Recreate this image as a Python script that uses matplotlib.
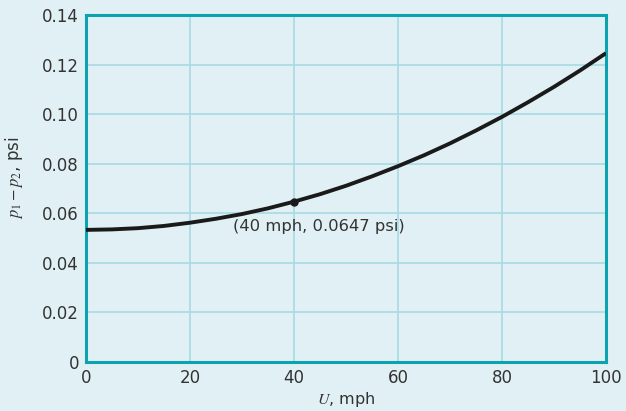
import numpy as np
import matplotlib
matplotlib.use('Agg')
from matplotlib import pyplot as plt

plt.rcParams['font.family'] = ['DejaVu Sans']
plt.rcParams['mathtext.fontset'] = 'stix'

# speed U (mph) and pressure drop p1 - p2 (psi)
speed = [0, 5, 10, 15, 20, 25, 30, 35, 40, 45, 50,
         55, 60, 65, 70, 75, 80, 85, 90, 95, 100]
dp = [0.0533, 0.0535, 0.0540, 0.0549, 0.0562, 0.0578, 0.0597, 0.0620, 0.0647,
      0.0677, 0.0711, 0.0749, 0.0790, 0.0834, 0.0882, 0.0934, 0.0989, 0.1048,
      0.1110, 0.1176, 0.1246]
marked_speed = 40
marked_dp = 0.0647

xticks = [0, 20, 40, 60, 80, 100]
yticks = [0, 0.02, 0.04, 0.06, 0.08, 0.10, 0.12, 0.14]
ytick_labels = ['0', '0.02', '0.04', '0.06', '0.08', '0.10', '0.12', '0.14']

bg = '#e1f0f4'
frame = '#0ca3b1'
grid = '#a8dbe4'
txt = '#333333'

fig = plt.figure(figsize=(6.26, 4.11), dpi=100, facecolor=bg)
ax = fig.add_axes([0.1374, 0.1192, 0.8306, 0.8443], facecolor=bg)

ax.plot(speed, dp, color='#1a1a1a', lw=2.8, solid_capstyle='butt', zorder=3)
ax.plot([marked_speed], [marked_dp], 'o', color='#1a1a1a', ms=5, zorder=4)
ax.text(28.3, 0.0545, '(40 mph, 0.0647 psi)', fontsize=11.8, color=txt,
        ha='left', va='center')

ax.set_xlim(0, 100)
ax.set_ylim(0, 0.14)
ax.set_xticks(xticks)
ax.set_yticks(yticks)
ax.set_yticklabels(ytick_labels)
ax.grid(True, color=grid, lw=1.2)
ax.set_axisbelow(True)
ax.tick_params(length=0, labelsize=12, labelcolor=txt, pad=5)
for s in ax.spines.values():
    s.set_color(frame)
    s.set_linewidth(2.2)

ax.set_xlabel(r'$U$, mph', fontsize=11.5, color=txt, labelpad=2)
ax.set_ylabel(r'$p_1 - p_2$, psi', fontsize=12, color=txt)
ax.yaxis.set_label_coords(-0.118, 0.53)

fig.savefig('out.png', dpi=100, facecolor=bg)
